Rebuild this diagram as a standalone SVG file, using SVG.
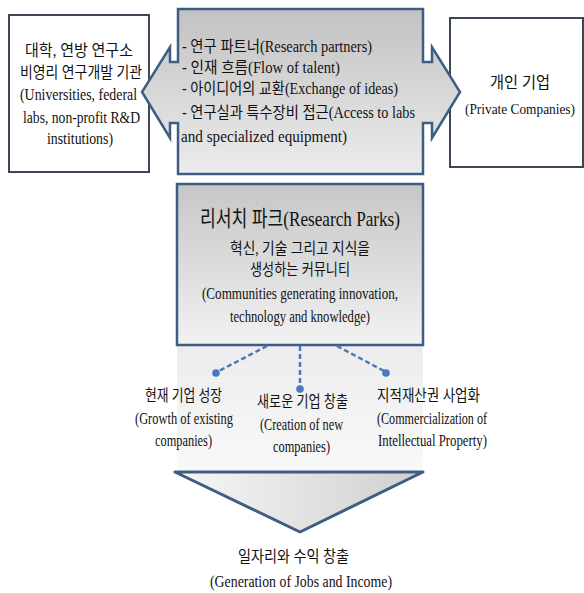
<svg xmlns="http://www.w3.org/2000/svg" width="584" height="593" viewBox="0 0 584 593">
  <defs>
    <linearGradient id="gArrow" x1="0" y1="0" x2="0" y2="1">
      <stop offset="0" stop-color="#c2c2c2"/>
      <stop offset="1" stop-color="#ececec"/>
    </linearGradient>
    <linearGradient id="gPark" x1="0" y1="0" x2="0" y2="1">
      <stop offset="0" stop-color="#c6c6c6"/>
      <stop offset="1" stop-color="#f2f2f2"/>
    </linearGradient>
    <linearGradient id="gBand" x1="0" y1="0" x2="0" y2="1">
      <stop offset="0" stop-color="#ececec"/>
      <stop offset="1" stop-color="#f9f9f9"/>
    </linearGradient>
    <linearGradient id="gTri" x1="0" y1="0" x2="1" y2="0">
      <stop offset="0" stop-color="#f7f7f7"/>
      <stop offset="1" stop-color="#cfcfcf"/>
    </linearGradient>
  </defs>
  <style>
    text { font-family: 'Liberation Serif', 'Noto Sans CJK KR', serif; font-size: 16px; fill: #111111; }
    .big { font-size: 22px; }
    .small { font-size: 14.5px; }
    .box { fill: #ffffff; stroke: #3b4656; stroke-width: 2; }
    .blue { stroke: #3e5d82; stroke-width: 2.5; stroke-linejoin: miter; }
    .dash { stroke: #4a78b8; stroke-width: 2.5; stroke-dasharray: 5 3; fill: none; }
    .dot { fill: #4a78b8; }
  </style>

  <rect width="584" height="593" fill="#ffffff"/>

  <!-- soft band behind the outcomes -->
  <rect x="177" y="345" width="246" height="127" fill="url(#gBand)"/>

  <g id="universities">
    <rect class="box" x="9" y="15" width="140" height="157"/>
    <text x="25" y="56" textLength="108" lengthAdjust="spacingAndGlyphs">대학, 연방 연구소</text>
    <text x="20" y="78" textLength="122" lengthAdjust="spacingAndGlyphs">비영리 연구개발 기관</text>
    <text x="20" y="100" textLength="117" lengthAdjust="spacingAndGlyphs">(Universities, federal</text>
    <text x="23" y="123" textLength="117" lengthAdjust="spacingAndGlyphs">labs, non-profit R&amp;D</text>
    <text x="47" y="144" textLength="66" lengthAdjust="spacingAndGlyphs">institutions)</text>
  </g>

  <g id="private-companies">
    <rect class="box" x="450" y="18" width="133" height="149" stroke-width="1.6"/>
    <text x="490" y="88" textLength="60" lengthAdjust="spacingAndGlyphs">개인 기업</text>
    <text class="small" x="520" y="114" text-anchor="middle" textLength="110" lengthAdjust="spacingAndGlyphs">(Private Companies)</text>
  </g>

  <g id="exchange-arrow">
    <path class="blue" fill="url(#gArrow)" d="M178,9 L423,9 L423,62 L432,62 L432,47 L460,92 L432,138 L432,123 L423,123 L423,174 L178,174 L178,123 L170,123 L170,138 L142,92 L170,47 L170,62 L178,62 Z"/>
    <text x="182" y="52" textLength="190" lengthAdjust="spacingAndGlyphs">- 연구 파트너(Research partners)</text>
    <text x="182" y="73" textLength="158" lengthAdjust="spacingAndGlyphs">- 인재 흐름(Flow of talent)</text>
    <text x="182" y="94" textLength="216" lengthAdjust="spacingAndGlyphs">- 아이디어의 교환(Exchange of ideas)</text>
    <text x="182" y="118" textLength="233" lengthAdjust="spacingAndGlyphs">- 연구실과 특수장비 접근(Access to labs</text>
    <text x="181" y="142" textLength="166" lengthAdjust="spacingAndGlyphs">and specialized equipment)</text>
  </g>

  <g id="research-parks">
    <rect class="blue" fill="url(#gPark)" x="177" y="184" width="246" height="161"/>
    <text class="big" x="200" y="226" textLength="200" lengthAdjust="spacingAndGlyphs">리서치 파크(Research Parks)</text>
    <text x="230" y="254" textLength="140" lengthAdjust="spacingAndGlyphs">혁신, 기술 그리고 지식을</text>
    <text x="250" y="275" textLength="100" lengthAdjust="spacingAndGlyphs">생성하는 커뮤니티</text>
    <text x="202" y="299" textLength="196" lengthAdjust="spacingAndGlyphs">(Communities generating  innovation,</text>
    <text x="230" y="322" textLength="140" lengthAdjust="spacingAndGlyphs">technology and knowledge)</text>
  </g>

  <g id="connectors">
    <line class="dash" x1="267" y1="346" x2="217" y2="372"/>
    <line class="dash" x1="300" y1="346" x2="300" y2="388"/>
    <line class="dash" x1="337" y1="346" x2="386" y2="372"/>
    <circle class="dot" cx="216" cy="373" r="3.8"/>
    <circle class="dot" cx="300" cy="389" r="3.8"/>
    <circle class="dot" cx="386" cy="373" r="3.8"/>
  </g>

  <g id="growth">
    <text x="145" y="401" textLength="77" lengthAdjust="spacingAndGlyphs">현재 기업 성장</text>
    <text x="135" y="424" textLength="98" lengthAdjust="spacingAndGlyphs">(Growth of existing</text>
    <text x="155" y="446" textLength="57" lengthAdjust="spacingAndGlyphs">companies)</text>
  </g>

  <g id="creation">
    <text x="257" y="407" textLength="91" lengthAdjust="spacingAndGlyphs">새로운 기업 창출</text>
    <text x="260" y="430" textLength="83" lengthAdjust="spacingAndGlyphs">(Creation of new</text>
    <text x="273" y="452" textLength="57" lengthAdjust="spacingAndGlyphs">companies)</text>
  </g>

  <g id="commercialization">
    <text x="377" y="401" textLength="103" lengthAdjust="spacingAndGlyphs">지적재산권 사업화</text>
    <text x="377" y="424" textLength="110" lengthAdjust="spacingAndGlyphs">(Commercialization of</text>
    <text x="378" y="446" textLength="109" lengthAdjust="spacingAndGlyphs">Intellectual Property)</text>
  </g>

  <g id="outcome-arrow">
    <path fill="url(#gTri)" stroke="#3e5d82" stroke-width="3" stroke-linejoin="round" d="M175,472 L423,472 L300,532 Z"/>
  </g>

  <g id="jobs-income">
    <text x="238" y="562" textLength="111" lengthAdjust="spacingAndGlyphs">일자리와 수익 창출</text>
    <text x="210" y="587" textLength="182" lengthAdjust="spacingAndGlyphs">(Generation of Jobs and Income)</text>
  </g>
</svg>
